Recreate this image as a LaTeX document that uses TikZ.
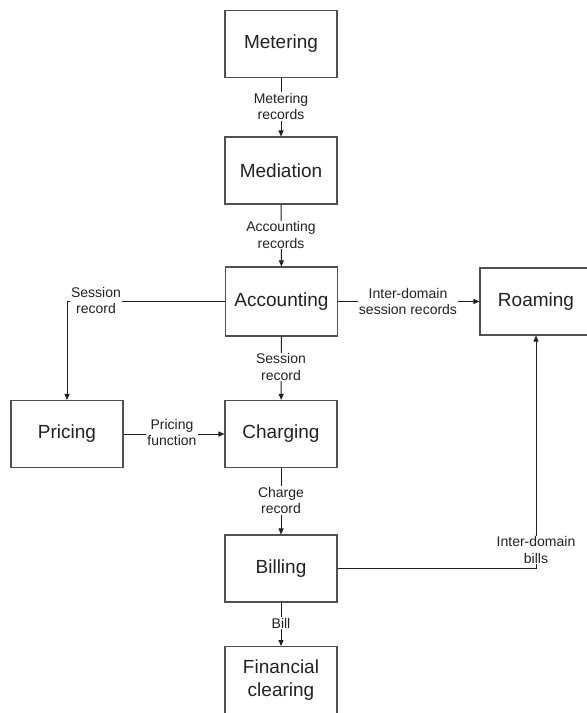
\documentclass[tikz,border=0pt]{standalone}
\usepackage{fontspec}
\setmainfont{Liberation Sans}
\usetikzlibrary{arrows.meta}
\definecolor{boxgray}{HTML}{505050}
\definecolor{txt}{HTML}{222222}
\definecolor{lncol}{HTML}{202020}
\begin{document}
\begin{tikzpicture}[x=1pt,y=-1pt,
  box/.style={draw=boxgray, line width=1.1pt, minimum width=112pt, minimum height=67pt, inner sep=0pt, align=center, font=\fontsize{19}{23}\selectfont, text=txt},
  lbl/.style={fill=white, inner sep=1pt, align=center, font=\fontsize{14}{16.5}\selectfont, text=txt},
  arr/.style={draw=lncol, line width=0.9pt, -{Triangle[length=6pt,width=5pt]}},
  ln/.style={draw=lncol, line width=0.9pt}]
\useasboundingbox (0,0) rectangle (587,713);
\clip (0,0) rectangle (587,713);
\fill[white] (0,0) rectangle (587,713);
% boxes
\node[box] (met) at (281,44) {Metering};
\node[box] (med) at (281,170.5) {Mediation};
\node[box, minimum height=69pt] (acc) at (281.5,301.5) {Accounting};
\node[box] (roa) at (536,301.5) {Roaming};
\node[box] (pri) at (67,434) {Pricing};
\node[box] (cha) at (281,434) {Charging};
\node[box] (bil) at (281,568.5) {Billing};
\node[box, anchor=north] (fin) at (281,646) {Financial\\clearing};
% connectors
\draw[arr] (met) -- (med);
\draw[arr] (med) -- (acc);
\draw[arr] (acc.west) -| (pri.north);
\draw[arr] (acc.east) -- (roa.west);
\draw[arr] (acc) -- (cha);
\draw[arr] (pri.east) -- (cha.west);
\draw[arr] (cha) -- (bil);
\draw[arr] (bil.east) -| (roa.south);
\draw[arr] (bil) -- (fin);
% labels
\node[lbl] (l1) at (281,106.5) {Metering\\records};
\node[lbl] (l2) at (281,235) {Accounting\\records};
\node[lbl] (l3) at (96,300.5) {Session\\record};
\node[lbl] (l4) at (408,301.5) {Inter-domain\\session records};
\node[lbl] (l5) at (281,367) {Session\\record};
\node[lbl] (l6) at (172,432.5) {Pricing\\function};
\node[lbl] (l7) at (281,500.5) {Charge\\record};
\node[lbl] (l8) at (281,623) {Bill};
\node[lbl] (l9) at (536,550) {Inter-domain\\bills};
\end{tikzpicture}
\end{document}
